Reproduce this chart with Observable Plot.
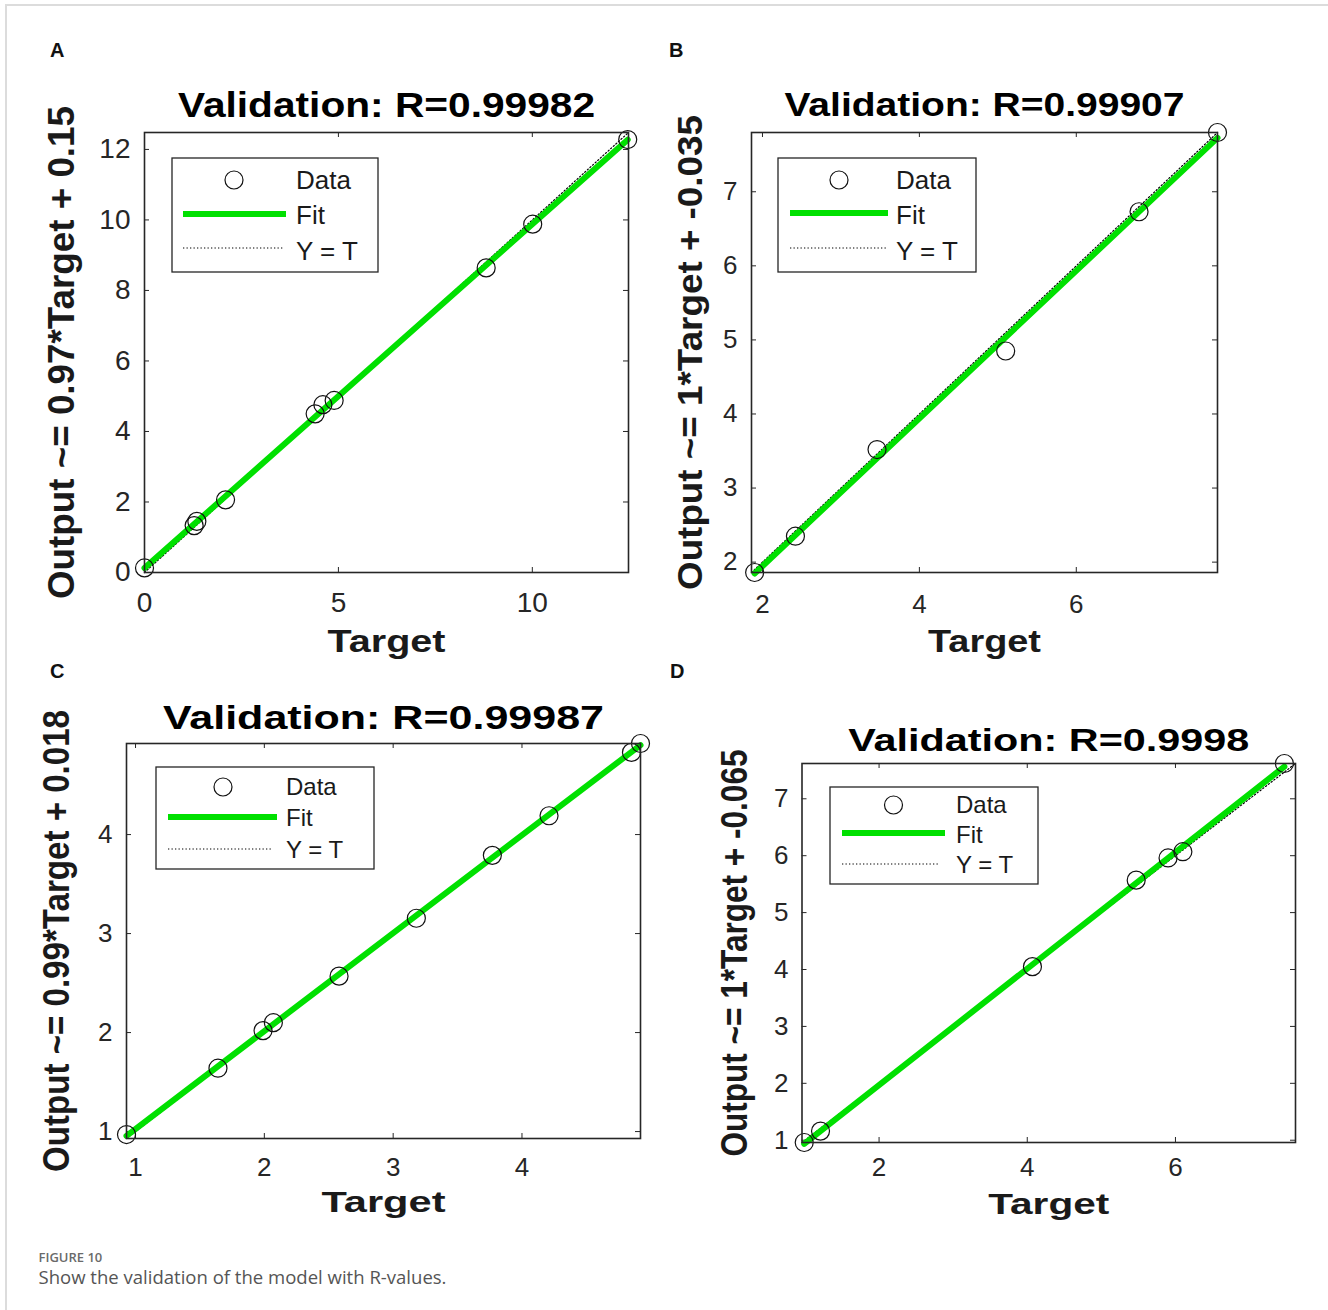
<!DOCTYPE html>
<html>
<head>
<meta charset="utf-8">
<script src="https://cdn.jsdelivr.net/npm/d3@7"></script>
<script src="https://cdn.jsdelivr.net/npm/@observablehq/plot@0.6"></script>
<style>
  html, body { margin: 0; padding: 0; background: #fff; }
  #page { position: relative; width: 1328px; height: 1310px; overflow: hidden; font-family: "Liberation Sans", Arial, sans-serif; }
  #border { position: absolute; left: 5px; top: 4px; width: 1400px; height: 1400px; border-top: 2px solid #dcdcdc; border-left: 2px solid #dcdcdc; }
  .panel { position: absolute; }
  .panel svg { overflow: visible; }
  #overlay { position: absolute; left: 0; top: 0; pointer-events: none; }
</style>
</head>
<body>
<div id="page"><div id="border"></div></div>
<script>
// ---------------- DATA ----------------
const panelLetters = ["A", "B", "C", "D"];
const legendLabels = ["Data", "Fit", "Y = T"];
const xLabel = "Target";

// Panel A
const titleA = "Validation: R=0.99982";
const yLabelA = "Output ~= 0.97*Target + 0.15";
const targetA = [0, 1.28, 1.35, 2.09, 4.40, 4.60, 4.89, 8.81, 10.01, 12.46];
const outputA = [0.13, 1.33, 1.45, 2.06, 4.50, 4.76, 4.88, 8.64, 9.88, 12.28];
const limA = [0, 12.48];
const xTicksA = [0, 5, 10];
const yTicksA = [0, 2, 4, 6, 8, 10, 12];

// Panel B
const titleB = "Validation: R=0.99907";
const yLabelB = "Output ~= 1*Target + -0.035";
const targetB = [1.90, 2.42, 3.46, 5.10, 6.80, 7.80];
const outputB = [1.86, 2.35, 3.52, 4.85, 6.73, 7.80];
const limB = [1.86, 7.8];
const xTicksB = [2, 4, 6];
const yTicksB = [2, 3, 4, 5, 6, 7];

// Panel C
const titleC = "Validation: R=0.99987";
const yLabelC = "Output ~= 0.99*Target + 0.018";
const targetC = [0.93, 1.64, 1.99, 2.07, 2.58, 3.18, 3.77, 4.21, 4.85, 4.92];
const outputC = [0.97, 1.64, 2.02, 2.10, 2.57, 3.155, 3.79, 4.19, 4.83, 4.92];
const limC = [0.93, 4.92];
const xTicksC = [1, 2, 3, 4];
const yTicksC = [1, 2, 3, 4];

// Panel D
const titleD = "Validation: R=0.9998";
const yLabelD = "Output ~= 1*Target + -0.065";
const targetD = [0.99, 1.21, 4.07, 5.47, 5.90, 6.10, 7.47];
const outputD = [0.96, 1.16, 4.05, 5.57, 5.96, 6.07, 7.62];
const limD = [0.96, 7.62];
const xTicksD = [2, 4, 6];
const yTicksD = [1, 2, 3, 4, 5, 6, 7];

const captionHead = "FIGURE 10";
const captionText = "Show the validation of the model with R-values.";

// ---------------- LAYOUT / STYLE ----------------
const GREEN = "#00e000";
const AXIS = "#262626";
const FONT = "'Liberation Sans', Arial, Helvetica, sans-serif";

const layout = {
  A: {left: 0, top: 60, width: 660, height: 600, ml: 144, mr: 32, mt: 72, mb: 88, xPad: 20, yPad: 14,
      titleDy: -27, xlabDy: 70, ylabDx: -82, titleSize: 35, titleLen: 417, ylabSize: 37, ylabLen: 493,
      xlabSize: 31, xlabLen: 118, tickFont: 28},
  B: {left: 660, top: 60, width: 668, height: 600, ml: 91, mr: 111, mt: 72, mb: 88, xPad: 22, yPad: 14,
      titleDy: -27, xlabDy: 70, ylabDx: -61, titleSize: 34, titleLen: 400, ylabSize: 35, ylabLen: 475,
      xlabSize: 31, xlabLen: 113, tickFont: 26},
  C: {left: 0, top: 660, width: 660, height: 580, ml: 126, mr: 20, mt: 83, mb: 102, xPad: 19, yPad: 14,
      titleDy: -25, xlabDy: 64, ylabDx: -69, titleSize: 33, titleLen: 441, ylabSize: 37, ylabLen: 462,
      xlabSize: 30, xlabLen: 124, tickFont: 26},
  D: {left: 660, top: 660, width: 668, height: 580, ml: 141.5, mr: 33, mt: 103, mb: 98, xPad: 15, yPad: 13.5,
      titleDy: -22, xlabDy: 62, ylabDx: -67, titleSize: 31, titleLen: 401, ylabSize: 37, ylabLen: 407,
      xlabSize: 30, xlabLen: 121, tickFont: 26}
};

// legend boxes (page coordinates)
const legendLayout = {
  A: {x: 172, y: 158, w: 206, h: 114, mx: 234, my: 180, l1: 183, l2: 286, gy: 214, dy: 248, dl2: 283, tx: 296, ty: [180, 215, 251], fs: 26},
  B: {x: 778, y: 158, w: 198, h: 114, mx: 839, my: 180, l1: 790, l2: 888, gy: 213, dy: 248, dl2: 886, tx: 896, ty: [180, 215, 251], fs: 26},
  C: {x: 156, y: 767, w: 218, h: 102, mx: 223, my: 787, l1: 168, l2: 277, gy: 817, dy: 849, dl2: 272, tx: 286, ty: [787, 818, 850], fs: 24},
  D: {x: 830, y: 787, w: 208, h: 97, mx: 893.5, my: 805, l1: 842, l2: 945, gy: 833, dy: 864, dl2: 940, tx: 956, ty: [805, 835, 865], fs: 24}
};

const letterPos = {A: [50, 57], B: [669, 57], C: [50, 678], D: [670, 678]};

const panels = {
  A: {title: titleA, yLabel: yLabelA, target: targetA, output: outputA, lim: limA, xTicks: xTicksA, yTicks: yTicksA},
  B: {title: titleB, yLabel: yLabelB, target: targetB, output: outputB, lim: limB, xTicks: xTicksB, yTicks: yTicksB},
  C: {title: titleC, yLabel: yLabelC, target: targetC, output: outputC, lim: limC, xTicks: xTicksC, yTicks: yTicksC},
  D: {title: titleD, yLabel: yLabelD, target: targetD, output: outputD, lim: limD, xTicks: xTicksD, yTicks: yTicksD}
};

function stretch(svg, content, len) {
  d3.select(svg).selectAll("text")
    .filter(function () { return this.textContent === content; })
    .attr("textLength", len)
    .attr("lengthAdjust", "spacingAndGlyphs");
}

const fmt = d => String(d);

function drawPanel(key) {
  const p = panels[key];
  const L = layout[key];
  const fw = L.width - L.ml - L.mr;
  const fh = L.height - L.mt - L.mb;
  const data = p.target.map((t, i) => ({t, o: p.output[i]}));
  const tick = 5;

  const svg = Plot.plot({
    width: L.width,
    height: L.height,
    marginLeft: L.ml,
    marginRight: L.mr,
    marginTop: L.mt,
    marginBottom: L.mb,
    style: {fontFamily: FONT, background: "transparent", overflow: "visible"},
    x: {domain: p.lim, label: null},
    y: {domain: p.lim, label: null},
    marks: [
      Plot.axisX(p.xTicks, {anchor: "bottom", tickSize: 0, tickPadding: L.xPad, fontSize: L.tickFont, color: AXIS, label: null, tickFormat: fmt}),
      Plot.axisY(p.yTicks, {anchor: "left", tickSize: 0, tickPadding: L.yPad, fontSize: L.tickFont, color: AXIS, label: null, tickFormat: fmt}),
      // inward ticks on all four sides (MATLAB box style)
      Plot.tickX(p.xTicks, {x: d => d, insetTop: fh - tick, stroke: AXIS, strokeWidth: 1}),
      Plot.tickX(p.xTicks, {x: d => d, insetBottom: fh - tick, stroke: AXIS, strokeWidth: 1}),
      Plot.tickY(p.yTicks, {y: d => d, insetRight: fw - tick, stroke: AXIS, strokeWidth: 1}),
      Plot.tickY(p.yTicks, {y: d => d, insetLeft: fw - tick, stroke: AXIS, strokeWidth: 1}),
      // Y = T reference
      Plot.line(p.lim, {x: d => d, y: d => d, stroke: "#000", strokeWidth: 1.2, strokeDasharray: "1.3,2.2"}),
      // Fit
      Plot.linearRegressionY(data, {x: "t", y: "o", stroke: GREEN, strokeWidth: 6, ci: 0}),
      // Data
      Plot.dot(data, {x: "t", y: "o", r: 9, stroke: "#111", strokeWidth: 1.2, fill: "none"}),
      Plot.frame({stroke: AXIS, strokeWidth: 1.6}),
      Plot.text([p.title], {text: d => d, frameAnchor: "top", dy: L.titleDy, fontSize: L.titleSize, fontWeight: "bold", fill: "#000", textAnchor: "middle", lineAnchor: "middle"}),
      Plot.text([xLabel], {text: d => d, frameAnchor: "bottom", dy: L.xlabDy, fontSize: L.xlabSize, fontWeight: "bold", fill: "#1a1a1a", textAnchor: "middle", lineAnchor: "middle"}),
      Plot.text([p.yLabel], {text: d => d, frameAnchor: "left", dx: L.ylabDx, rotate: -90, fontSize: L.ylabSize, fontWeight: "bold", fill: "#1a1a1a", textAnchor: "middle", lineAnchor: "middle"})
    ]
  });
  stretch(svg, p.title, L.titleLen);
  stretch(svg, xLabel, L.xlabLen);
  stretch(svg, p.yLabel, L.ylabLen);

  const div = document.createElement("div");
  div.className = "panel";
  div.style.left = L.left + "px";
  div.style.top = L.top + "px";
  div.appendChild(svg);
  document.getElementById("page").appendChild(div);
}

["A", "B", "C", "D"].forEach(drawPanel);

// ---------------- OVERLAY: legends, letters, caption ----------------
const overlay = d3.select("#page").append("svg")
  .attr("id", "overlay")
  .attr("width", 1328).attr("height", 1310)
  .style("font-family", FONT);

["A", "B", "C", "D"].forEach(key => {
  const g = legendLayout[key];
  const lg = overlay.append("g");
  lg.append("rect").attr("x", g.x).attr("y", g.y).attr("width", g.w).attr("height", g.h)
    .attr("fill", "#fff").attr("stroke", AXIS).attr("stroke-width", 1.3);
  lg.append("circle").attr("cx", g.mx).attr("cy", g.my).attr("r", 9)
    .attr("fill", "none").attr("stroke", "#111").attr("stroke-width", 1.2);
  lg.append("line").attr("x1", g.l1).attr("x2", g.l2).attr("y1", g.gy).attr("y2", g.gy)
    .attr("stroke", GREEN).attr("stroke-width", 6);
  lg.append("line").attr("x1", g.l1).attr("x2", g.dl2).attr("y1", g.dy).attr("y2", g.dy)
    .attr("stroke", "#000").attr("stroke-width", 1.1).attr("stroke-dasharray", "1.3,2.2");
  legendLabels.forEach((lab, i) => {
    lg.append("text").attr("x", g.tx).attr("y", g.ty[i]).attr("dy", "0.35em")
      .attr("font-size", g.fs).attr("fill", "#1a1a1a").text(lab);
  });
});

panelLetters.forEach(k => {
  overlay.append("text").attr("x", letterPos[k][0]).attr("y", letterPos[k][1])
    .attr("font-size", 20).attr("font-weight", "bold").attr("fill", "#111").text(k);
});

overlay.append("text").attr("x", 38.5).attr("y", 1261.5)
  .attr("font-family", "'Open Sans', 'Noto Sans', sans-serif").attr("font-weight", 600)
  .attr("font-size", 13).attr("fill", "#6a6a6a").text(captionHead);
overlay.append("text").attr("x", 38.5).attr("y", 1284)
  .attr("font-family", "'Open Sans', 'Noto Sans', sans-serif")
  .attr("font-size", 17.5).attr("fill", "#555")
  .attr("textLength", 408).attr("lengthAdjust", "spacingAndGlyphs")
  .text(captionText);
</script>
</body>
</html>
